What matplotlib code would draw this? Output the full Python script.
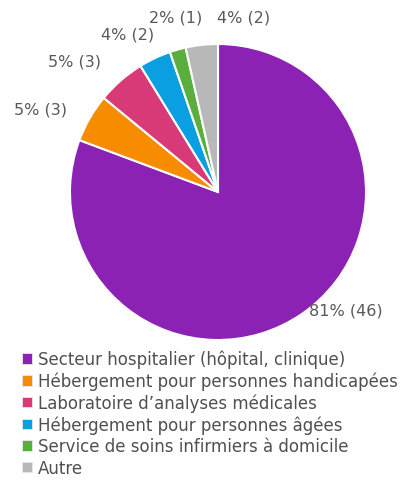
import matplotlib.pyplot as plt

categories = [
    "Secteur hospitalier (hôpital, clinique)",
    "Hébergement pour personnes handicapées",
    "Laboratoire d\u2019analyses médicales",
    "Hébergement pour personnes âgées",
    "Service de soins infirmiers à domicile",
    "Autre",
]
counts = [46, 3, 3, 2, 1, 2]
colors = ["#8B22B3", "#F78C00", "#D83A78", "#0A9FE0", "#5AAE3E", "#B8B8B8"]

total = sum(counts)
labels = [f"{round(c / total * 100)}% ({c})" for c in counts]

# where the data labels sit, in units of the pie radius
label_pos = [(0.865, -0.80), (-1.20, 0.56), (-0.97, 0.885),
             (-0.61, 1.07), (-0.285, 1.185), (0.17, 1.185)]

plt.rcParams['font.family'] = ['DejaVu Sans']

fig = plt.figure(figsize=(4.07, 4.85), dpi=100)
W, H = 407, 485
cx, cy, r = 218, 193, 148
ax = fig.add_axes([(cx - r) / W, (H - cy - r) / H, 2 * r / W, 2 * r / H])

wedges, _ = ax.pie(counts, colors=colors, startangle=90, counterclock=False,
                   wedgeprops=dict(edgecolor="white", linewidth=1.5))
ax.set_xlim(-1, 1)
ax.set_ylim(-1, 1)

for lab, (x, y) in zip(labels, label_pos):
    ax.text(x, y, lab, ha="center", va="center", color="#595959", fontsize=11.5)

leg = fig.legend(wedges, categories, loc="upper left", bbox_to_anchor=(22 / W, 1 - 351 / H),
                 frameon=False, fontsize=12, handlelength=0.58, handleheight=0.58,
                 handletextpad=0.35, labelspacing=0.2, labelcolor="#505050",
                 borderaxespad=0, borderpad=0)
for h in leg.legend_handles:
    h.set_edgecolor("#e8e8e8")
    h.set_linewidth(0.6)

fig.savefig("out.png", dpi=100)
